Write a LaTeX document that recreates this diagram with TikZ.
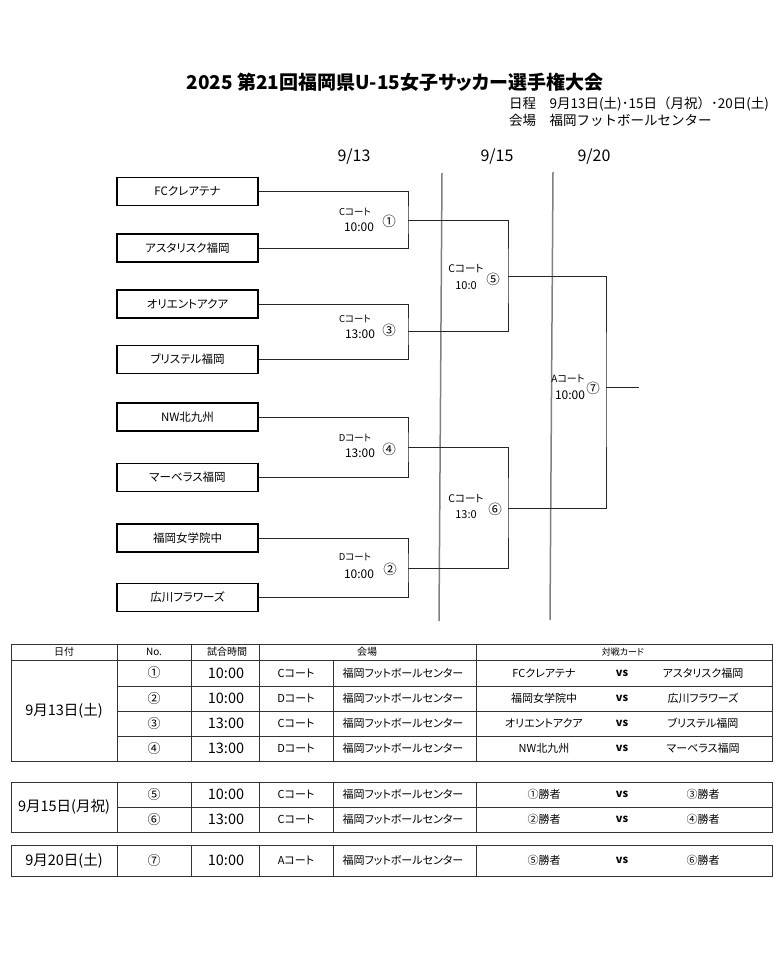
\documentclass[tikz,border=0pt]{standalone}
\usepackage{fontspec}
\setmainfont{Noto Sans CJK JP}[RawFeature=+palt]
\newfontfamily\mfont{Noto Sans CJK JP}
\newcommand\tcell[4]{\node[tc] (#1) at (#2,#3) {#4};}
\begin{document}
\begin{tikzpicture}[x=1pt,y=-1pt,
  team/.style={draw, line width=1.8pt, minimum width=141pt, minimum height=28pt, inner sep=0pt, font=\fontsize{11.5}{12}\selectfont},
  br/.style={line width=0.9pt, draw=black!85},
  lab/.style={font=\fontsize{9.5}{10}\selectfont, inner sep=0pt},
  labt/.style={font=\fontsize{12}{13}\selectfont, inner sep=0pt},
  circ/.style={font=\fontsize{13.5}{14}\selectfont, inner sep=0pt},
  tc/.style={font=\fontsize{11}{12}\selectfont, inner sep=0pt},
  tbig/.style={font=\fontsize{14.5}{15}\selectfont, inner sep=0pt},
  th/.style={font=\fontsize{10}{11}\selectfont, inner sep=0pt},
  tl/.style={line width=0.9pt, draw=black!80},
  day/.style={line width=1.5pt, draw=black!50}]
\useasboundingbox (0,0) rectangle (780,977);
% title
\node[font=\bfseries\fontsize{19}{21}\selectfont, inner sep=0pt] (title) at (395,82) {2025 第21回福岡県U-15女子サッカー選手権大会};
\node[font=\mfont\fontsize{13.5}{14}\selectfont, inner sep=0pt, anchor=west] (sub1) at (509,104) {日程　9月13日(土)･15日（月祝）･20日(土)};
\node[font=\mfont\fontsize{13.5}{14}\selectfont, inner sep=0pt, anchor=west] (sub2) at (509,120) {会場　福岡フットボールセンター};
% date headers
\node[font=\fontsize{16}{17}\selectfont, inner sep=0pt] (d1) at (354,157) {9/13};
\node[font=\fontsize{16}{17}\selectfont, inner sep=0pt] (d2) at (497,157) {9/15};
\node[font=\fontsize{16}{17}\selectfont, inner sep=0pt] (d3) at (594,157) {9/20};
% day separators
\draw[day] (442,173) -- (439,621);
\draw[day] (553,172) -- (550,620);
% teams
\node[team] (t1) at (187.5,191.5) {FCクレアテナ};
\node[team] (t2) at (187.5,248) {アスタリスク福岡};
\node[team] (t3) at (187.5,304) {オリエントアクア};
\node[team] (t4) at (187.5,359.5) {ブリステル福岡};
\node[team] (t5) at (187.5,417) {NW北九州};
\node[team] (t6) at (187.5,477.5) {マーベラス福岡};
\node[team] (t7) at (187.5,538) {福岡女学院中};
\node[team] (t8) at (187.5,597.5) {広川フラワーズ};
% junction coordinates
\coordinate (m1) at (408,220);
\coordinate (m3) at (408,331);
\coordinate (m4) at (408,447);
\coordinate (m2) at (408,568);
\coordinate (r5) at (508,276);
\coordinate (r6) at (508,508);
\coordinate (f7) at (606,387);
\coordinate (fe) at (639,387);
% brackets
\draw[br] (t1.east) -| (m1) |- (t2.east);
\draw[br] (t3.east) -| (m3) |- (t4.east);
\draw[br] (t5.east) -| (m4) |- (t6.east);
\draw[br] (t7.east) -| (m2) |- (t8.east);
\draw[br] (m1) -| (r5) |- (m3);
\draw[br] (m4) -| (r6) |- (m2);
\draw[br] (r5) -| (f7) |- (r6);
\draw[br] (f7) -- (fe);
% match labels
\node[lab] (c1a) at (355,212) {Cコート};
\node[labt] (c1b) at (359,227) {10:00};
\node[circ] (c1n) at (389,221) {①};
\node[lab] (c3a) at (355,319) {Cコート};
\node[labt] (c3b) at (360,334) {13:00};
\node[circ] (c3n) at (389,330) {③};
\node[lab] (c4a) at (355,438) {Dコート};
\node[labt] (c4b) at (360,453) {13:00};
\node[circ] (c4n) at (389,449) {④};
\node[lab] (c2a) at (355,557) {Dコート};
\node[labt] (c2b) at (359,574) {10:00};
\node[circ] (c2n) at (390,569) {②};
\node[lab, font=\fontsize{10.5}{11}\selectfont] (c5a) at (466,269) {Cコート};
\node[labt, font=\fontsize{11}{12}\selectfont] (c5b) at (466,286) {10:0};
\node[circ] (c5n) at (493,279) {⑤};
\node[lab, font=\fontsize{10.5}{11}\selectfont] (c6a) at (466,499) {Cコート};
\node[labt, font=\fontsize{11}{12}\selectfont] (c6b) at (466,515) {13:0};
\node[circ] (c6n) at (495,509) {⑥};
\node[lab, font=\fontsize{10}{11}\selectfont] (c7a) at (568,379) {Aコート};
\node[labt] (c7b) at (570,395) {10:00};
\node[circ] (c7n) at (593,388) {⑦};
% ---- table group 1
\draw[tl] (11,644) rectangle (772,761);
\draw[tl] (11,660) -- (772,660);
\foreach \yy in {686,711,736} \draw[tl] (117,\yy) -- (772,\yy);
\foreach \xx in {117,191,259,476} \draw[tl] (\xx,644) -- (\xx,761);
\draw[tl] (333,660) -- (333,761);
\node[th] (h1) at (64,652) {日付};
\node[th] (h2) at (154,652) {No.};
\node[th] (h3) at (227,652) {試合時間};
\node[th] (h4) at (367,652) {会場};
\node[th, font=\fontsize{9}{10}\selectfont] (h5) at (623,652) {対戦カード};
\node[tbig] (g1d) at (64,711) {9月13日(土)};
\tcell{r1n}{154}{673}{\fontsize{13}{14}\selectfont ①}
\node[tbig] (r1t) at (226,673) {10:00};
\tcell{r1c}{296}{673}{Cコート}
\tcell{r1v}{403}{673}{福岡フットボールセンター}
\tcell{r1a}{544}{673}{FCクレアテナ}
\tcell{r1s}{622}{673}{\bfseries vs}
\tcell{r1b}{703}{673}{アスタリスク福岡}
\tcell{r2n}{154}{698.5}{\fontsize{13}{14}\selectfont ②}
\node[tbig] (r2t) at (226,698.5) {10:00};
\tcell{r2c}{296}{698.5}{Dコート}
\tcell{r2v}{403}{698.5}{福岡フットボールセンター}
\tcell{r2a}{544}{698.5}{福岡女学院中}
\tcell{r2s}{622}{698.5}{\bfseries vs}
\tcell{r2b}{703}{698.5}{広川フラワーズ}
\tcell{r3n}{154}{723.5}{\fontsize{13}{14}\selectfont ③}
\node[tbig] (r3t) at (226,723.5) {13:00};
\tcell{r3c}{296}{723.5}{Cコート}
\tcell{r3v}{403}{723.5}{福岡フットボールセンター}
\tcell{r3a}{544}{723.5}{オリエントアクア}
\tcell{r3s}{622}{723.5}{\bfseries vs}
\tcell{r3b}{703}{723.5}{ブリステル福岡}
\tcell{r4n}{154}{748.5}{\fontsize{13}{14}\selectfont ④}
\node[tbig] (r4t) at (226,748.5) {13:00};
\tcell{r4c}{296}{748.5}{Dコート}
\tcell{r4v}{403}{748.5}{福岡フットボールセンター}
\tcell{r4a}{544}{748.5}{NW北九州}
\tcell{r4s}{622}{748.5}{\bfseries vs}
\tcell{r4b}{703}{748.5}{マーベラス福岡}
% ---- table group 2
\draw[tl] (11,782) rectangle (772,832);
\draw[tl] (117,807) -- (772,807);
\foreach \xx in {117,191,259,333,476} \draw[tl] (\xx,782) -- (\xx,832);
\node[tbig] (g2d) at (64,807) {9月15日(月祝)};
\tcell{r5n}{154}{794.5}{\fontsize{13}{14}\selectfont ⑤}
\node[tbig] (r5t) at (226,794.5) {10:00};
\tcell{r5c}{296}{794.5}{Cコート}
\tcell{r5v}{403}{794.5}{福岡フットボールセンター}
\tcell{r5a}{544}{794.5}{①勝者}
\tcell{r5s}{622}{794.5}{\bfseries vs}
\tcell{r5b}{703}{794.5}{③勝者}
\tcell{r6n}{154}{819.5}{\fontsize{13}{14}\selectfont ⑥}
\node[tbig] (r6t) at (226,819.5) {13:00};
\tcell{r6c}{296}{819.5}{Cコート}
\tcell{r6v}{403}{819.5}{福岡フットボールセンター}
\tcell{r6a}{544}{819.5}{②勝者}
\tcell{r6s}{622}{819.5}{\bfseries vs}
\tcell{r6b}{703}{819.5}{④勝者}
% ---- table group 3
\draw[tl] (11,845) rectangle (772,876);
\foreach \xx in {117,191,259,333,476} \draw[tl] (\xx,845) -- (\xx,876);
\node[tbig] (g3d) at (64,860.5) {9月20日(土)};
\tcell{r7n}{154}{860.5}{\fontsize{13}{14}\selectfont ⑦}
\node[tbig] (r7t) at (226,860.5) {10:00};
\tcell{r7c}{296}{860.5}{Aコート}
\tcell{r7v}{403}{860.5}{福岡フットボールセンター}
\tcell{r7a}{544}{860.5}{⑤勝者}
\tcell{r7s}{622}{860.5}{\bfseries vs}
\tcell{r7b}{703}{860.5}{⑥勝者}
\end{tikzpicture}
\end{document}
